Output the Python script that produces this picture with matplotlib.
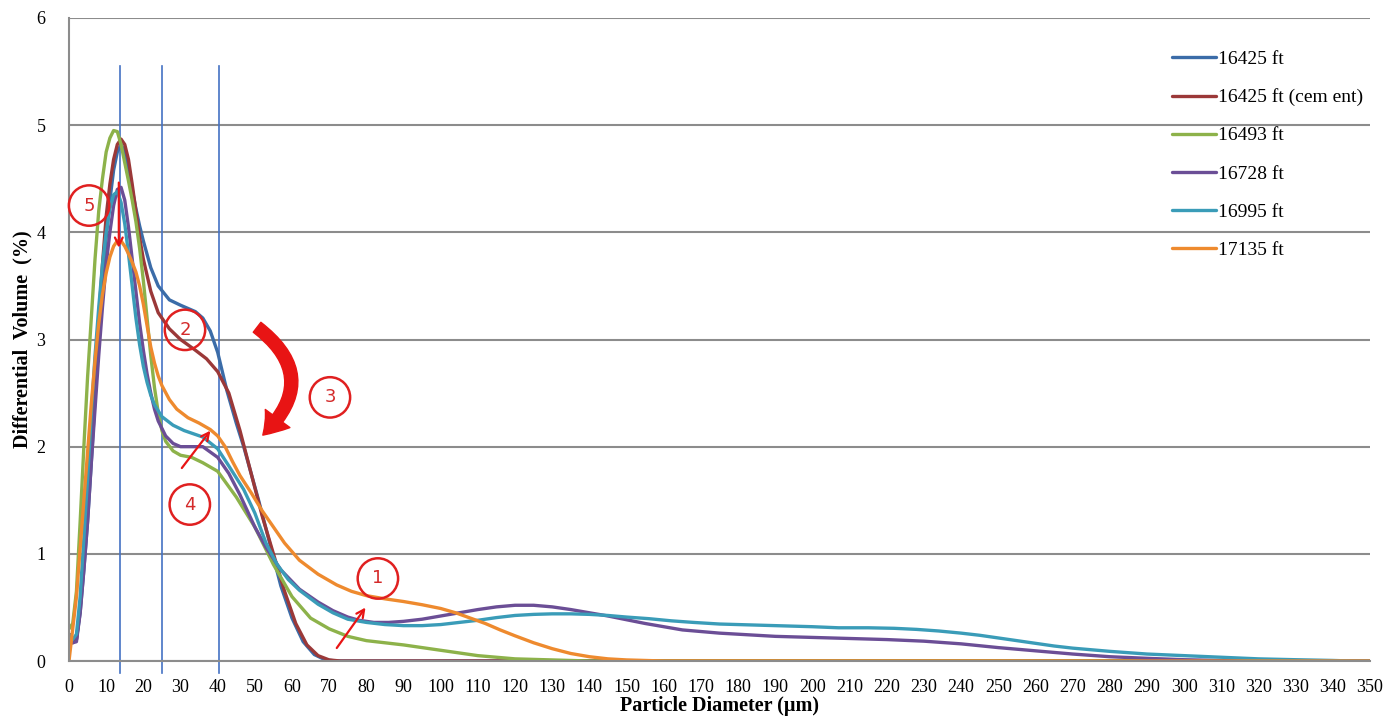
import numpy as np
import matplotlib
matplotlib.use('Agg')
import matplotlib.pyplot as plt
from matplotlib.patches import FancyArrowPatch

plt.rcParams['font.family'] = ['Liberation Serif', 'DejaVu Serif']

# particle diameter (um) / differential volume (%)
x_16425 = [0, 1, 2, 3, 4, 5, 6, 7, 8, 9, 10, 11, 12, 13, 14, 15, 16, 17, 18, 19, 20, 22, 24, 27, 30, 34, 36, 38, 40, 42.5, 45, 47, 49, 51, 54, 57, 60, 63, 66, 69, 72, 350]
y_16425 = [0.25, 0.18, 0.2, 0.45, 0.85, 1.3, 1.85, 2.45, 3.0, 3.5, 3.95, 4.3, 4.58, 4.75, 4.82, 4.75, 4.58, 4.4, 4.22, 4.06, 3.92, 3.67, 3.5, 3.37, 3.32, 3.26, 3.2, 3.08, 2.88, 2.52, 2.22, 2.0, 1.75, 1.5, 1.1, 0.7, 0.4, 0.18, 0.06, 0.01, 0, 0]

x_cement = [0, 1, 2, 3, 4, 5, 6, 7, 8, 9, 10, 11, 12, 13, 14, 15, 16, 17, 18, 19, 20, 22, 24, 27, 30, 34, 37, 40, 43, 46, 49, 52, 55, 58, 61, 64, 67, 70, 73, 350]
y_cement = [0.25, 0.17, 0.2, 0.5, 0.95, 1.45, 2.0, 2.6, 3.2, 3.7, 4.15, 4.45, 4.68, 4.82, 4.87, 4.82, 4.68, 4.45, 4.2, 3.95, 3.75, 3.45, 3.25, 3.1, 3.0, 2.9, 2.82, 2.7, 2.5, 2.15, 1.75, 1.35, 1.0, 0.65, 0.35, 0.15, 0.05, 0.01, 0, 0]

x_16493 = [0, 1, 2, 3, 4, 5, 6, 7, 8, 9, 10, 11, 12, 13, 14, 15, 16, 17, 18, 19, 20, 21, 22, 23, 24, 25, 26, 28, 30, 33, 36, 40, 45, 50, 55, 60, 65, 70, 75, 80, 90, 100, 110, 120, 130, 140, 350]
y_16493 = [0.3, 0.35, 0.65, 1.3, 2.0, 2.65, 3.2, 3.75, 4.2, 4.5, 4.75, 4.88, 4.95, 4.94, 4.82, 4.65, 4.48, 4.3, 4.1, 3.85, 3.55, 3.2, 2.85, 2.55, 2.32, 2.15, 2.05, 1.96, 1.92, 1.9, 1.85, 1.77, 1.53, 1.25, 0.9, 0.6, 0.4, 0.3, 0.23, 0.19, 0.15, 0.1, 0.05, 0.02, 0.01, 0, 0]

x_16728 = [0, 1, 2, 3, 4, 5, 6, 7, 8, 9, 10, 11, 12, 13, 14, 15, 16, 17, 18, 19, 20, 21, 22, 23, 24, 26, 28, 30, 33, 36, 40, 43, 46, 50, 53, 57, 62, 67, 71, 75, 78, 82, 86, 90, 95, 100, 105, 110, 115, 120, 125, 130, 135, 140, 145, 150, 155, 160, 165, 170, 175, 180, 185, 190, 200, 210, 220, 230, 240, 250, 260, 270, 280, 290, 300, 310, 320, 350]
y_16728 = [0.25, 0.17, 0.18, 0.45, 0.85, 1.3, 1.85, 2.35, 2.85, 3.3, 3.7, 4.0, 4.25, 4.4, 4.42, 4.3, 4.05, 3.75, 3.45, 3.15, 2.9, 2.68, 2.5, 2.35, 2.24, 2.1, 2.03, 2.0, 2.0, 2.0, 1.9, 1.75, 1.55, 1.25, 1.06, 0.85, 0.67, 0.55, 0.47, 0.41, 0.38, 0.36, 0.36, 0.37, 0.39, 0.42, 0.45, 0.48, 0.505, 0.52, 0.52, 0.505, 0.48, 0.45, 0.42, 0.385, 0.35, 0.32, 0.29, 0.275, 0.26, 0.25, 0.24, 0.23, 0.22, 0.21, 0.2, 0.185, 0.16, 0.125, 0.095, 0.065, 0.04, 0.025, 0.012, 0.005, 0, 0]

x_16995 = [0, 1, 2, 3, 4, 5, 6, 7, 8, 9, 10, 11, 12, 13, 14, 15, 16, 17, 18, 19, 20, 21, 22, 23, 25, 28, 31, 36, 40, 43, 47, 50, 53, 56, 59, 62, 67, 71, 75, 80, 85, 90, 95, 100, 105, 110, 115, 120, 125, 130, 135, 140, 145, 150, 156, 162, 168, 175, 180, 190, 200, 207, 215, 222, 228, 234, 240, 245, 250, 255, 260, 265, 270, 280, 290, 300, 310, 320, 330, 340, 345, 350]
y_16995 = [0.25, 0.2, 0.25, 0.6, 1.15, 1.7, 2.3, 2.85, 3.3, 3.7, 4.0, 4.22, 4.35, 4.38, 4.28, 4.08, 3.8, 3.5, 3.2, 2.95, 2.75, 2.6, 2.48, 2.39, 2.28, 2.2, 2.15, 2.09, 1.98, 1.82, 1.6, 1.38, 1.1, 0.9, 0.76, 0.66, 0.53, 0.45, 0.39, 0.36, 0.34, 0.33, 0.33, 0.34, 0.36, 0.38, 0.405, 0.425, 0.435, 0.44, 0.44, 0.435, 0.425, 0.41, 0.395, 0.375, 0.36, 0.345, 0.34, 0.33, 0.32, 0.31, 0.31, 0.305, 0.295, 0.28, 0.26, 0.24, 0.215, 0.19, 0.165, 0.14, 0.12, 0.09, 0.065, 0.05, 0.035, 0.02, 0.012, 0.005, 0, 0]

x_17135 = [0, 1, 2, 3, 4, 5, 6, 7, 8, 9, 10, 11, 12, 13, 14, 15, 16, 17, 18, 19, 20, 21, 22, 23, 24, 25, 27, 29, 32, 35, 38, 40, 42, 44, 46, 49, 52, 55, 58, 62, 67, 72, 76, 80, 85, 90, 95, 100, 104, 108, 112, 116, 120, 125, 130, 135, 140, 145, 150, 160, 350]
y_17135 = [0.0, 0.3, 0.6, 1.05, 1.5, 1.95, 2.4, 2.8, 3.15, 3.42, 3.62, 3.77, 3.87, 3.92, 3.92, 3.87, 3.8, 3.72, 3.63, 3.5, 3.33, 3.13, 2.93, 2.78, 2.66, 2.57, 2.44, 2.35, 2.27, 2.22, 2.16, 2.1, 2.0, 1.86, 1.73, 1.57, 1.4, 1.25, 1.1, 0.94, 0.81, 0.71, 0.65, 0.61, 0.58, 0.555, 0.525, 0.49, 0.45, 0.4, 0.35, 0.29, 0.235, 0.17, 0.115, 0.07, 0.04, 0.02, 0.01, 0, 0]

series = [
    ('16425 ft', x_16425, y_16425, '#3B6CA8'),
    ('16425 ft (cem ent)', x_cement, y_cement, '#9B3838'),
    ('16493 ft', x_16493, y_16493, '#8DB24A'),
    ('16728 ft', x_16728, y_16728, '#6B4E96'),
    ('16995 ft', x_16995, y_16995, '#3A9CB8'),
    ('17135 ft', x_17135, y_17135, '#EE8A2E'),
]

marker_lines = [13.7, 25, 40.4]

# numbered red circles: label, x, y
circle_labels = ['5', '2', '3', '4', '1']
circle_x = [5.4, 31.2, 70.2, 32.5, 83.1]
circle_y = [4.25, 3.09, 2.46, 1.46, 0.77]

fig = plt.figure(figsize=(13.99, 7.28), dpi=100)
ax = fig.add_axes([69 / 1399, 1 - 661 / 728, (1370 - 69) / 1399, (661 - 18) / 728])

ax.set_xlim(0, 350)
ax.set_ylim(0, 6)
ax.set_xticks(np.arange(0, 351, 10))
ax.set_yticks(np.arange(0, 7, 1))
ax.yaxis.grid(True, color='#8c8c8c', lw=1.5)
ax.set_axisbelow(True)
for s in ['top', 'right']:
    ax.spines[s].set_visible(False)
for s in ['left', 'bottom']:
    ax.spines[s].set_color('#8c8c8c')
    ax.spines[s].set_linewidth(1.5)
ax.tick_params(length=0, labelsize=13)
ax.tick_params(axis='x', pad=13)
ax.tick_params(axis='y', pad=17)

for xv in marker_lines:
    ax.plot([xv, xv], [-0.11, 5.55], color='#4472C4', lw=1.2, clip_on=False, zorder=1)

for name, xs, ys, c in series:
    ax.plot(xs, ys, color=c, lw=2.4, label=name, solid_capstyle='round', solid_joinstyle='round')

ax.set_xlabel('Particle Diameter (µm)', fontsize=14.5, fontweight='bold', labelpad=0)
ax.set_ylabel('Differential  Volume  (%)', fontsize=14.5, fontweight='bold', labelpad=3)

leg = fig.legend(loc='upper left', bbox_to_anchor=(1154 / 1399, 1 - 33 / 728), frameon=False,
                 fontsize=14, handlelength=2.3, handletextpad=0.1, labelspacing=1.05)

for lab, cx, cy in zip(circle_labels, circle_x, circle_y):
    ax.text(cx, cy, lab, color='#D42A2A', fontsize=13, family='DejaVu Sans', ha='center', va='center',
            bbox=dict(boxstyle='circle,pad=0.62', fc='none', ec='#E02020', lw=1.8), zorder=6)

red = '#E81414'
ax.annotate('', xy=(13.4, 3.83), xytext=(13.4, 4.49),
            arrowprops=dict(arrowstyle='->', color=red, lw=1.6, mutation_scale=14), zorder=7)
ax.annotate('', xy=(38.5, 2.17), xytext=(29.9, 1.78),
            arrowprops=dict(arrowstyle='->', color=red, lw=1.6, mutation_scale=14), zorder=7)
ax.annotate('', xy=(80.2, 0.52), xytext=(71.6, 0.10),
            arrowprops=dict(arrowstyle='->', color=red, lw=1.6, mutation_scale=14), zorder=7)
arc = FancyArrowPatch((50.0, 3.13), (51.6, 2.09), connectionstyle='arc3,rad=-0.6',
                      arrowstyle='simple,head_width=1.1,head_length=0.8,tail_width=0.45',
                      mutation_scale=20, color=red, zorder=7)
ax.add_patch(arc)

fig.savefig('out.png', dpi=100)
